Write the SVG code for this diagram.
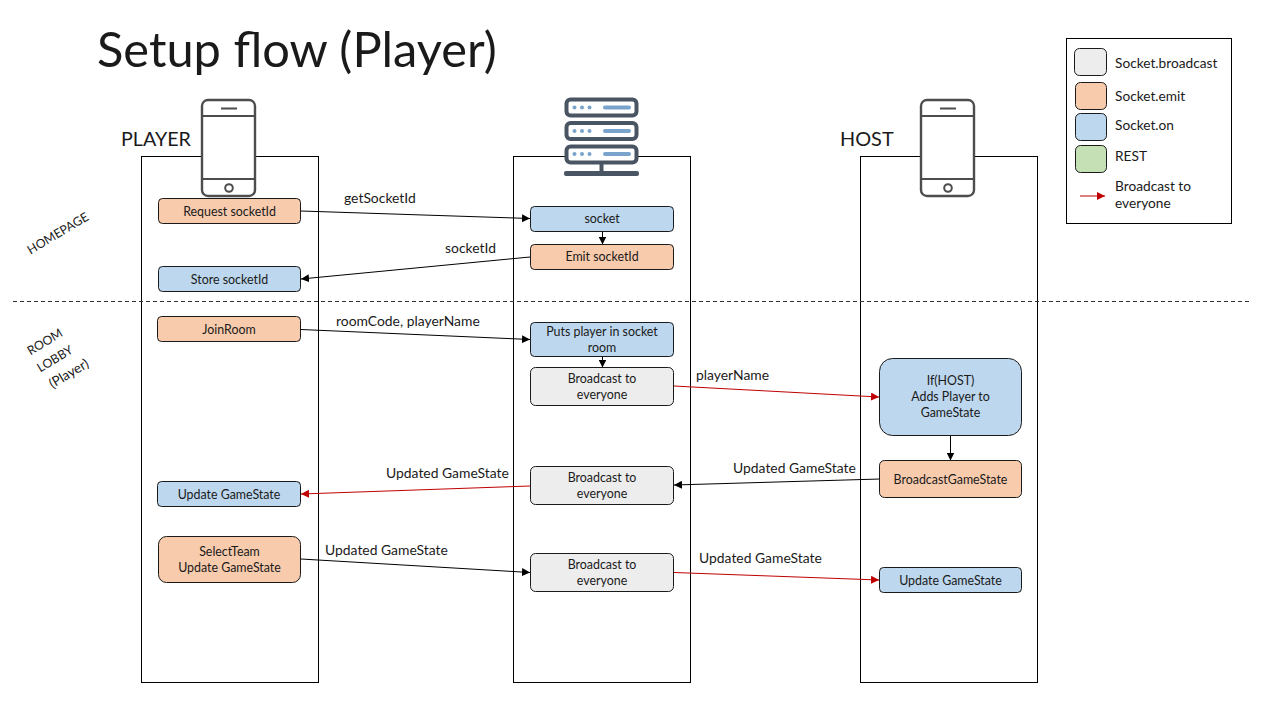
<svg xmlns="http://www.w3.org/2000/svg" width="1280" height="720" viewBox="0 0 1280 720">
<style>
text{font-family:Lato,"Open Sans","Liberation Sans",sans-serif;fill:#1a1a1a}
.n{font-size:12.400px;text-anchor:middle}
.s{font-size:12.300px;text-anchor:middle}
.l{font-size:13.900px}
.g{font-size:13.700px}
.col{fill:#fff;stroke:#000;stroke-width:1}
.b{stroke:#1a1a1a;stroke-width:1}
.blue{fill:#bdd7ee}.or{fill:#f8cbad}.gr{fill:#ededed}.gn{fill:#c5e0b4}
.k{fill:none;stroke:#000;stroke-width:1;marker-end:url(#ak)}
.r{fill:none;stroke:#c00000;stroke-width:1;marker-end:url(#ar)}
.ph{fill:#fff;stroke:#4d4d4d;stroke-width:2.400}
.phl{fill:none;stroke:#4d4d4d;stroke-width:2}
.sv{fill:#fff;stroke:#4a5563;stroke-width:4}
.dot{fill:#7aa3cb}
</style>
<defs>
<marker id="ak" viewBox="0 0 8 8" refX="8" refY="4" markerWidth="8" markerHeight="8" markerUnits="userSpaceOnUse" orient="auto"><path d="M0 0L8 4L0 8Z" fill="#000"/></marker>
<marker id="ar" viewBox="0 0 8 8" refX="8" refY="4" markerWidth="8" markerHeight="8" markerUnits="userSpaceOnUse" orient="auto"><path d="M0 0L8 4L0 8Z" fill="#c00000"/></marker>
<g id="phone">
<rect class="ph" x="0" y="0" width="53" height="96" rx="6"/>
<path class="phl" d="M0 16H53M0 79H53M19 8.500H35"/>
<circle class="phl" cx="27" cy="88" r="3.800"/>
</g>
</defs>
<rect width="1280" height="720" fill="#fff"/>
<text id="title" x="97" y="67" style="font-size:48.800px">Setup flow (Player)</text>

<g id="lane-player"><rect class="col" x="141.500" y="156.500" width="177" height="526"/><text x="121" y="146" style="font-size:19.700px">PLAYER</text><use href="#phone" x="202" y="100"/></g>
<g id="lane-server"><rect class="col" x="513.500" y="156.500" width="177" height="526"/>
<g id="server-icon">
<rect class="sv" x="566.500" y="99.500" width="70" height="16" rx="4"/><rect class="sv" x="566.500" y="123" width="70" height="16" rx="4"/><rect class="sv" x="566.500" y="146.500" width="70" height="16" rx="4"/>
<circle class="dot" cx="574.500" cy="107.500" r="2"/><circle class="dot" cx="582" cy="107.500" r="2"/><circle class="dot" cx="589.500" cy="107.500" r="2"/><rect class="dot" x="603" y="105.500" width="28" height="4" rx="2"/>
<circle class="dot" cx="574.500" cy="131" r="2"/><circle class="dot" cx="582" cy="131" r="2"/><circle class="dot" cx="589.500" cy="131" r="2"/><rect class="dot" x="603" y="129" width="28" height="4" rx="2"/>
<circle class="dot" cx="574.500" cy="154" r="2"/><circle class="dot" cx="582" cy="154" r="2"/><circle class="dot" cx="589.500" cy="154" r="2"/><rect class="dot" x="603" y="152" width="28" height="4" rx="2"/>
<path d="M601.500 164V172" stroke="#4a5563" stroke-width="4"/><rect x="564" y="171" width="75" height="5" rx="2" fill="#4a5563"/>
</g></g>
<g id="lane-host"><rect class="col" x="860.500" y="156.500" width="177" height="526"/><text x="840" y="146" style="font-size:19.900px">HOST</text><use href="#phone" x="921" y="100"/></g>

<path d="M13 301.500H1250" stroke="#333" stroke-width="1" stroke-dasharray="4 3" fill="none"/>
<g id="section-labels">
<text class="s" x="58" y="237.500" transform="rotate(-31 58 233.500)">HOMEPAGE</text>
<text class="s" x="45" y="346" transform="rotate(-31 45 342)">ROOM</text>
<text class="s" x="55" y="363" transform="rotate(-31 55 359)">LOBBY</text>
<text class="s" x="69" y="378" transform="rotate(-31 69 374)" style="font-size:13.500px">(Player)</text>
</g>

<g id="connectors">
<path class="k" d="M301 211L530 218.500"/>
<path class="k" d="M602.500 232V244.500"/>
<path class="k" d="M530 257L301 279"/>
<path class="k" d="M301 329.500L530 339.500"/>
<path class="k" d="M602.500 357V367.500"/>
<path class="r" d="M674 386L879 397"/>
<path class="k" d="M950.500 436V460.500"/>
<path class="k" d="M880 479L674 485"/>
<path class="r" d="M530 486L301 494"/>
<path class="k" d="M301 559L530 572.500"/>
<path class="r" d="M674 572.500L879 580"/>
</g>
<g id="connector-labels">
<text class="l" x="344" y="203">getSocketId</text>
<text class="l" x="445" y="253">socketId</text>
<text class="l" x="336" y="326">roomCode, playerName</text>
<text class="l" x="696" y="380">playerName</text>
<text class="l" x="386" y="478">Updated GameState</text>
<text class="l" x="733" y="473">Updated GameState</text>
<text class="l" x="325" y="555">Updated GameState</text>
<text class="l" x="699" y="563">Updated GameState</text>
</g>

<g id="n-request"><rect class="or b" x="158.500" y="198.500" width="142" height="25" rx="4"/><text class="n" x="229.500" y="215.500">Request socketId</text></g>
<g id="n-store"><rect class="blue b" x="158.500" y="266.500" width="142" height="25" rx="4"/><text class="n" x="229.500" y="283.500">Store socketId</text></g>
<g id="n-join"><rect class="or b" x="157.500" y="316.500" width="143" height="25" rx="4"/><text class="n" x="229" y="333.500">JoinRoom</text></g>
<g id="n-update1"><rect class="blue b" x="157.500" y="481.500" width="143" height="25" rx="4"/><text class="n" x="229" y="498.500">Update GameState</text></g>
<g id="n-select"><rect class="or b" x="158.500" y="536.500" width="142" height="46" rx="8"/><text class="n" x="229.500" y="555.500">SelectTeam</text><text class="n" x="229.500" y="571.500">Update GameState</text></g>

<g id="n-socket"><rect class="blue b" x="530.500" y="206.500" width="143" height="25" rx="4"/><text class="n" x="602" y="222.500">socket</text></g>
<g id="n-emit"><rect class="or b" x="530.500" y="244.500" width="143" height="25" rx="4"/><text class="n" x="602" y="260.500">Emit socketId</text></g>
<g id="n-puts"><rect class="blue b" x="530.500" y="322.500" width="143" height="34" rx="4"/><text class="n" x="602" y="335.500">Puts player in socket</text><text class="n" x="602" y="351.500">room</text></g>
<g id="n-bc1"><rect class="gr b" x="530.500" y="367.500" width="143" height="38" rx="5"/><text class="n" x="602" y="382.500">Broadcast to</text><text class="n" x="602" y="398.500">everyone</text></g>
<g id="n-bc2"><rect class="gr b" x="530.500" y="466.500" width="143" height="38" rx="5"/><text class="n" x="602" y="481.500">Broadcast to</text><text class="n" x="602" y="497.500">everyone</text></g>
<g id="n-bc3"><rect class="gr b" x="530.500" y="553.500" width="143" height="38" rx="5"/><text class="n" x="602" y="568.500">Broadcast to</text><text class="n" x="602" y="584.500">everyone</text></g>

<g id="n-adds"><rect class="blue b" x="879.500" y="358.500" width="142" height="77" rx="13"/><text class="n" x="950.500" y="384.500">If(HOST)</text><text class="n" x="950.500" y="400.500">Adds Player to</text><text class="n" x="950.500" y="416.500">GameState</text></g>
<g id="n-bcgs"><rect class="or b" x="879.500" y="460.500" width="142" height="37" rx="5"/><text class="n" x="950.500" y="483.500">BroadcastGameState</text></g>
<g id="n-update2"><rect class="blue b" x="879.500" y="567.500" width="142" height="25" rx="4"/><text class="n" x="950.500" y="584.500">Update GameState</text></g>

<g id="legend">
<rect x="1066.500" y="38.500" width="165" height="185" fill="#fff" stroke="#000"/>
<rect class="gr b" x="1074.500" y="48.500" width="32" height="27" rx="5"/>
<rect class="or b" x="1075.500" y="82.500" width="31" height="27" rx="5"/>
<rect class="blue b" x="1075.500" y="113.500" width="31" height="27" rx="5"/>
<rect class="gn b" x="1075.500" y="145.500" width="31" height="27" rx="5"/>
<path class="r" d="M1080 196H1105"/>
<text class="g" x="1115" y="67.500">Socket.broadcast</text>
<text class="g" x="1115" y="101">Socket.emit</text>
<text class="g" x="1115" y="130">Socket.on</text>
<text class="g" x="1115" y="161">REST</text>
<text class="g" x="1115" y="191">Broadcast to</text>
<text class="g" x="1115" y="208">everyone</text>
</g>
</svg>
